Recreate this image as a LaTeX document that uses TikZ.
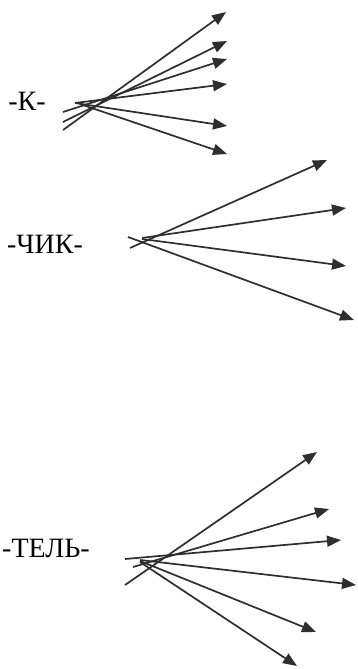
\documentclass[tikz,border=0pt]{standalone}
\usepackage{fontspec}
\setmainfont{Liberation Serif}
\usetikzlibrary{arrows.meta}
\definecolor{ink}{HTML}{2E2E2E}
\tikzset{
  lbl/.style={font=\fontsize{28}{30}\selectfont, text=black, inner sep=0pt},
  arr/.style={draw=ink, line width=1.7pt, -{Triangle[length=14pt,width=11pt]}},
}
\begin{document}
\begin{tikzpicture}[x=1pt,y=-1pt]
\useasboundingbox (0,0) rectangle (357,669);
% labels
\node[lbl] (k) at (27,101) {-К-};
\node[lbl] (chik) at (45,244) {-ЧИК-};
\node[lbl] (tel) at (46,548) {-ТЕЛЬ-};
% K group
\coordinate (k1s) at (63,130); \coordinate (k1e) at (226,12);
\coordinate (k2s) at (63,122); \coordinate (k2e) at (227,41);
\coordinate (k3s) at (63,112); \coordinate (k3e) at (227,59);
\coordinate (k4s) at (75,103); \coordinate (k4e) at (227,84);
\coordinate (k5s) at (75,103); \coordinate (k5e) at (227,126);
\coordinate (k6s) at (80,104); \coordinate (k6e) at (227,154);
\foreach \i in {1,...,6} \draw[arr] (k\i s) -- (k\i e);
% CHIK group
\coordinate (c1s) at (130,248); \coordinate (c1e) at (327,160);
\coordinate (c2s) at (142,238); \coordinate (c2e) at (346,208);
\coordinate (c3s) at (142,239); \coordinate (c3e) at (346,266);
\coordinate (c4s) at (128,237); \coordinate (c4e) at (354,320);
\foreach \i in {1,...,4} \draw[arr] (c\i s) -- (c\i e);
% TEL group
\coordinate (t1s) at (125,585); \coordinate (t1e) at (317,452);
\coordinate (t2s) at (133,567); \coordinate (t2e) at (329,509);
\coordinate (t3s) at (125,559); \coordinate (t3e) at (341,540);
\coordinate (t4s) at (140,560); \coordinate (t4e) at (356,585);
\coordinate (t5s) at (140,561); \coordinate (t5e) at (316,632);
\coordinate (t6s) at (140,562); \coordinate (t6e) at (297,666);
\foreach \i in {1,...,6} \draw[arr] (t\i s) -- (t\i e);
\end{tikzpicture}
\end{document}
